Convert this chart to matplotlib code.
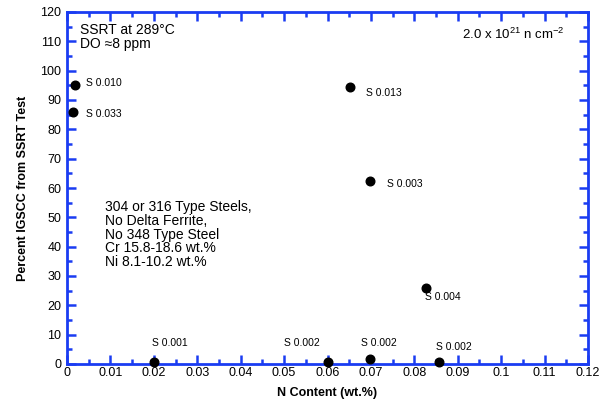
import matplotlib
matplotlib.use("Agg")
import matplotlib.pyplot as plt
from matplotlib.ticker import MultipleLocator

plt.rcParams["font.family"] = ["Liberation Sans", "DejaVu Sans"]
plt.rcParams["mathtext.fontset"] = "custom"
plt.rcParams["mathtext.rm"] = "Liberation Sans"

# N content (wt.%) vs. percent IGSCC, with sulfur content labels
n_content = [0.0018, 0.0013, 0.0652, 0.0698, 0.0826, 0.0201, 0.0600, 0.0698, 0.0857]
igscc = [95.2, 85.8, 94.3, 62.5, 25.9, 0.7, 0.7, 1.7, 0.7]
s_labels = ["S 0.010", "S 0.033", "S 0.013", "S 0.003", "S 0.004",
            "S 0.001", "S 0.002", "S 0.002", "S 0.002"]
x_tick_labels = ["0", "0.01", "0.02", "0.03", "0.04", "0.05", "0.06",
                 "0.07", "0.08", "0.09", "0.1", "0.11", "0.12"]

# label offsets from each point, in pixels
label_offsets = [(11, 2), (13, -2), (16, -6), (17, -3), (-1, -9),
                 (-2, 19), (-43, 19), (-9, 16), (-3, 15)]

blue = "#1a3cf2"

fig = plt.figure(figsize=(6.10, 4.08), dpi=100)
fig.subplots_adjust(left=67 / 610, right=588 / 610, top=1 - 12 / 408, bottom=1 - 364 / 408)
ax = fig.add_subplot(111)

ax.plot(n_content, igscc, "o", color="black", markersize=6.2, clip_on=False, zorder=5)

for x, y, lab, off in zip(n_content, igscc, s_labels, label_offsets):
    ax.annotate(lab, (x, y), xytext=off, textcoords="offset pixels",
                ha="left", va="center", fontsize=7.5)

ax.set_xlim(0, 0.12)
ax.set_ylim(0, 120)
ax.set_xticks([i * 0.01 for i in range(13)])
ax.set_xticklabels(x_tick_labels)
ax.xaxis.set_minor_locator(MultipleLocator(0.005))
ax.yaxis.set_major_locator(MultipleLocator(10))
ax.yaxis.set_minor_locator(MultipleLocator(5))

for side in ["left", "right", "top", "bottom"]:
    ax.spines[side].set_color(blue)
    ax.spines[side].set_linewidth(2)

ax.tick_params(which="both", direction="in", top=True, right=True, color=blue,
               width=1.8, labelsize=9)
ax.tick_params(which="major", length=6.5)
ax.tick_params(which="minor", length=3.5)
ax.tick_params(axis="x", pad=2)
ax.tick_params(axis="y", pad=4)

ax.set_xlabel("N Content (wt.%)", fontsize=9, fontweight="bold", labelpad=6)
ax.set_ylabel("Percent IGSCC from SSRT Test", fontsize=9, fontweight="bold", labelpad=8)

ax.text(0.025, 0.97, "SSRT at 289°C\nDO \u22488 ppm", transform=ax.transAxes,
        ha="left", va="top", fontsize=10, linespacing=1.0)
ax.text(0.955, 0.935, r"2.0 x 10$^{\mathregular{21}}$ n cm$^{\mathregular{-2}}$",
        transform=ax.transAxes, ha="right", va="center", fontsize=9.5)
ax.text(0.073, 0.367,
        "304 or 316 Type Steels,\nNo Delta Ferrite,\nNo 348 Type Steel\n"
        "Cr 15.8-18.6 wt.%\nNi 8.1-10.2 wt.%",
        transform=ax.transAxes, ha="left", va="center", fontsize=10, linespacing=0.97)

fig.savefig("out.png", dpi=100)
